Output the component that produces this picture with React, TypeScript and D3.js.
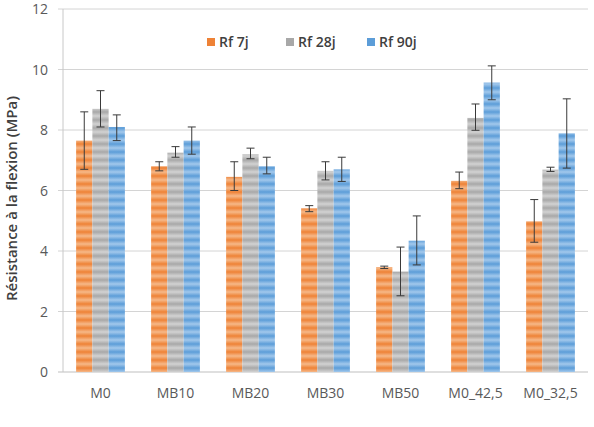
import React, { useEffect, useRef } from 'react';
import * as d3 from 'd3';

const categories = ['M0', 'MB10', 'MB20', 'MB30', 'MB50', 'M0_42,5', 'M0_32,5'];
const seriesNames = ['Rf 7j', 'Rf 28j', 'Rf 90j'];

// mean values per series
const rf7 = [7.65, 6.8, 6.45, 5.41, 3.47, 6.32, 4.98];
const rf28 = [8.7, 7.25, 7.2, 6.65, 3.32, 8.4, 6.69];
const rf90 = [8.1, 7.65, 6.8, 6.7, 4.34, 9.57, 7.89];

// error bar low / high
const rf7Low = [6.7, 6.65, 6.0, 5.3, 3.42, 6.06, 4.29];
const rf7High = [8.6, 6.95, 6.95, 5.5, 3.5, 6.61, 5.7];
const rf28Low = [8.1, 7.1, 7.05, 6.35, 2.52, 7.99, 6.63];
const rf28High = [9.3, 7.45, 7.4, 6.95, 4.13, 8.86, 6.77];
const rf90Low = [7.65, 7.2, 6.55, 6.3, 3.54, 9.0, 6.74];
const rf90High = [8.5, 8.1, 7.1, 7.1, 5.16, 10.12, 9.03];

const yTicks = [0, 2, 4, 6, 8, 10, 12];

const colors = [
  { dark: '#ee8236', light: '#f6b888' },
  { dark: '#a8a8a8', light: '#d2d2d2' },
  { dark: '#5c9dd8', light: '#a2c8ec' },
];

const App = () => {
  const svgRef = useRef<SVGSVGElement>(null);

  useEffect(() => {
    const svg = d3.select(svgRef.current);
    svg.selectAll('*').remove();

    const width = 594;
    const height = 427;
    const margin = { top: 9, right: 6, bottom: 55, left: 63 };
    const font = '"Open Sans", "DejaVu Sans", sans-serif';

    const values = [rf7, rf28, rf90];
    const lows = [rf7Low, rf28Low, rf90Low];
    const highs = [rf7High, rf28High, rf90High];

    const rows = categories.map((c, i) => ({
      cat: c,
      bars: seriesNames.map((s, j) => ({
        s, j, v: values[j][i], lo: lows[j][i], hi: highs[j][i],
      })),
    }));

    const x0 = d3.scaleBand()
      .domain(categories)
      .range([margin.left, width - margin.right])
      .paddingInner(0.35)
      .paddingOuter(0.175);

    const x1 = d3.scaleBand()
      .domain(seriesNames)
      .range([0, x0.bandwidth()]);

    const y = d3.scaleLinear()
      .domain([0, 12])
      .range([height - margin.bottom, margin.top]);

    // striped fills
    const defs = svg.append('defs');
    colors.forEach((c, j) => {
      const g = defs.append('linearGradient')
        .attr('id', `grad${j}`)
        .attr('x1', 0).attr('y1', 0).attr('x2', 0).attr('y2', 1);
      g.append('stop').attr('offset', '0%').attr('stop-color', c.dark);
      g.append('stop').attr('offset', '50%').attr('stop-color', c.light);
      g.append('stop').attr('offset', '100%').attr('stop-color', c.dark);
      const p = defs.append('pattern')
        .attr('id', `stripe${j}`)
        .attr('patternUnits', 'userSpaceOnUse')
        .attr('width', 600)
        .attr('height', 8);
      p.append('rect')
        .attr('width', 600)
        .attr('height', 8)
        .attr('fill', `url(#grad${j})`);
    });

    // gridlines
    svg.append('g')
      .selectAll('line')
      .data(yTicks)
      .join('line')
      .attr('x1', margin.left - 5)
      .attr('x2', width - margin.right)
      .attr('y1', d => y(d))
      .attr('y2', d => y(d))
      .attr('stroke', d => (d === 0 ? '#bfbfbf' : '#d4d4d4'))
      .attr('stroke-width', 1);

    // y axis line
    svg.append('line')
      .attr('x1', margin.left)
      .attr('x2', margin.left)
      .attr('y1', y(12))
      .attr('y2', y(0))
      .attr('stroke', '#c8c8c8');

    svg.append('g')
      .selectAll('text')
      .data(yTicks)
      .join('text')
      .attr('x', margin.left - 15)
      .attr('y', d => y(d))
      .attr('dy', '0.36em')
      .attr('text-anchor', 'end')
      .attr('fill', '#595959')
      .style('font-family', font)
      .style('font-size', '14px')
      .text(d => d);

    // bars
    const groups = svg.append('g')
      .selectAll('g')
      .data(rows)
      .join('g')
      .attr('transform', d => `translate(${x0(d.cat)},0)`);

    groups.selectAll('rect')
      .data(d => d.bars)
      .join('rect')
      .attr('x', d => x1(d.s)!)
      .attr('y', d => y(d.v))
      .attr('width', x1.bandwidth())
      .attr('height', d => y(0) - y(d.v))
      .attr('fill', d => `url(#stripe${d.j})`);

    // error bars
    const err = groups.selectAll('g.err')
      .data(d => d.bars)
      .join('g')
      .attr('class', 'err')
      .attr('stroke', '#3a3a3a')
      .attr('stroke-width', 1);
    const cx = (d: any) => x1(d.s)! + x1.bandwidth() / 2;
    err.append('line')
      .attr('x1', cx).attr('x2', cx)
      .attr('y1', d => y(d.lo)).attr('y2', d => y(d.hi));
    err.append('line')
      .attr('x1', d => cx(d) - 4).attr('x2', d => cx(d) + 4)
      .attr('y1', d => y(d.lo)).attr('y2', d => y(d.lo));
    err.append('line')
      .attr('x1', d => cx(d) - 4).attr('x2', d => cx(d) + 4)
      .attr('y1', d => y(d.hi)).attr('y2', d => y(d.hi));

    // x labels
    svg.append('g')
      .selectAll('text')
      .data(categories)
      .join('text')
      .attr('x', d => x0(d)! + x0.bandwidth() / 2)
      .attr('y', y(0) + 26)
      .attr('text-anchor', 'middle')
      .attr('fill', '#595959')
      .style('font-family', font)
      .style('font-size', '14px')
      .text(d => d);

    // y title
    svg.append('text')
      .attr('transform', `translate(17,${(y(0) + y(12)) / 2 + 8}) rotate(-90)`)
      .attr('text-anchor', 'middle')
      .attr('fill', '#404040')
      .style('font-family', font)
      .style('font-size', '15px')
      .style('font-weight', 600)
      .text('Résistance à la flexion (MPa)');

    // legend
    const legendX = [207, 286, 367];
    const legend = svg.append('g')
      .selectAll('g')
      .data(seriesNames)
      .join('g')
      .attr('transform', (d, i) => `translate(${legendX[i]},42)`);
    legend.append('rect')
      .attr('x', 0)
      .attr('y', -4)
      .attr('width', 8)
      .attr('height', 8)
      .attr('fill', (d, i) => colors[i].dark);
    legend.append('text')
      .attr('x', 12)
      .attr('dy', '0.35em')
      .attr('fill', '#404040')
      .style('font-family', font)
      .style('font-size', '14px')
      .style('font-weight', 600)
      .text(d => d);
  }, []);

  return <svg ref={svgRef} width={594} height={427} style={{ position: 'absolute', left: 0, top: 0, background: '#fff' }}></svg>;
};

export default App;
